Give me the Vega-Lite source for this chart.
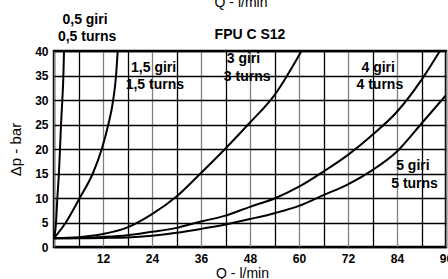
{
  "$schema": "https://vega.github.io/schema/vega-lite/v6.json",
  "autosize": "none",
  "width": 392,
  "height": 196,
  "padding": {"left": 54, "top": 51, "right": 2, "bottom": 32},
  "background": "white",
  "config": {
    "view": {"stroke": "black", "strokeWidth": 2.5},
    "axis": {
      "labelFont": "Liberation Sans",
      "labelFontWeight": "bold",
      "labelFontSize": 12,
      "labelColor": "black",
      "titleFont": "Liberation Sans",
      "titleFontWeight": "normal",
      "titleColor": "black",
      "domain": false,
      "ticks": false,
      "grid": true,
      "gridColor": "black",
      "gridWidth": 1.3
    }
  },
  "datasets": {
    "curves": [
      {"curve": "0.5", "Q": 0, "dp": 1.8},
      {"curve": "0.5", "Q": 0.5, "dp": 5},
      {"curve": "0.5", "Q": 0.82, "dp": 10},
      {"curve": "0.5", "Q": 1.2, "dp": 15},
      {"curve": "0.5", "Q": 1.47, "dp": 20},
      {"curve": "0.5", "Q": 1.72, "dp": 25},
      {"curve": "0.5", "Q": 2.04, "dp": 30},
      {"curve": "0.5", "Q": 2.3, "dp": 35},
      {"curve": "0.5", "Q": 2.45, "dp": 40},
      {"curve": "1.5", "Q": 0, "dp": 1.8},
      {"curve": "1.5", "Q": 2.9, "dp": 5},
      {"curve": "1.5", "Q": 6.3, "dp": 10},
      {"curve": "1.5", "Q": 9.5, "dp": 15},
      {"curve": "1.5", "Q": 11.7, "dp": 20},
      {"curve": "1.5", "Q": 13.3, "dp": 25},
      {"curve": "1.5", "Q": 14.5, "dp": 30},
      {"curve": "1.5", "Q": 15.2, "dp": 35},
      {"curve": "1.5", "Q": 15.6, "dp": 40},
      {"curve": "3", "Q": 0, "dp": 1.8},
      {"curve": "3", "Q": 6, "dp": 2.0},
      {"curve": "3", "Q": 12, "dp": 2.65},
      {"curve": "3", "Q": 18, "dp": 4.0},
      {"curve": "3", "Q": 24, "dp": 6.7},
      {"curve": "3", "Q": 30, "dp": 10.3},
      {"curve": "3", "Q": 36, "dp": 15.1},
      {"curve": "3", "Q": 42, "dp": 20.1},
      {"curve": "3", "Q": 48, "dp": 25.4},
      {"curve": "3", "Q": 54, "dp": 31},
      {"curve": "3", "Q": 60.6, "dp": 40},
      {"curve": "4", "Q": 0, "dp": 1.8},
      {"curve": "4", "Q": 6, "dp": 1.85},
      {"curve": "4", "Q": 12, "dp": 2.05},
      {"curve": "4", "Q": 18, "dp": 2.4},
      {"curve": "4", "Q": 24, "dp": 3.1},
      {"curve": "4", "Q": 30, "dp": 3.9},
      {"curve": "4", "Q": 36, "dp": 5.2},
      {"curve": "4", "Q": 42, "dp": 6.4},
      {"curve": "4", "Q": 48, "dp": 8.2},
      {"curve": "4", "Q": 54, "dp": 9.9},
      {"curve": "4", "Q": 60, "dp": 12.3},
      {"curve": "4", "Q": 66, "dp": 15.4},
      {"curve": "4", "Q": 72, "dp": 18.8},
      {"curve": "4", "Q": 78, "dp": 22.9},
      {"curve": "4", "Q": 84, "dp": 27.6},
      {"curve": "4", "Q": 90, "dp": 34.1},
      {"curve": "4", "Q": 94.5, "dp": 40},
      {"curve": "5", "Q": 0, "dp": 1.8},
      {"curve": "5", "Q": 6, "dp": 1.8},
      {"curve": "5", "Q": 12, "dp": 1.85},
      {"curve": "5", "Q": 18, "dp": 1.95},
      {"curve": "5", "Q": 24, "dp": 2.3},
      {"curve": "5", "Q": 30, "dp": 2.9},
      {"curve": "5", "Q": 36, "dp": 3.7},
      {"curve": "5", "Q": 42, "dp": 4.6},
      {"curve": "5", "Q": 48, "dp": 5.7},
      {"curve": "5", "Q": 54, "dp": 6.9},
      {"curve": "5", "Q": 60, "dp": 8.4},
      {"curve": "5", "Q": 66, "dp": 10.6},
      {"curve": "5", "Q": 72, "dp": 12.8},
      {"curve": "5", "Q": 78, "dp": 15.7},
      {"curve": "5", "Q": 84, "dp": 19.5},
      {"curve": "5", "Q": 90, "dp": 25.2},
      {"curve": "5", "Q": 96, "dp": 31}
    ],
    "labels": [
      {"Q": 7.6, "dp": 46.4, "text": "0,5 giri"},
      {"Q": 8.1, "dp": 42.9, "text": "0,5 turns"},
      {"Q": 48.0, "dp": 43.3, "text": "FPU C S12"},
      {"Q": 24.4, "dp": 36.6, "text": "1,5 giri"},
      {"Q": 24.7, "dp": 33.0, "text": "1,5 turns"},
      {"Q": 46.4, "dp": 38.4, "text": "3 giri"},
      {"Q": 47.3, "dp": 34.7, "text": "3 turns"},
      {"Q": 79.4, "dp": 36.5, "text": "4 giri"},
      {"Q": 79.8, "dp": 33.0, "text": "4 turns"},
      {"Q": 87.9, "dp": 16.5, "text": "5 giri"},
      {"Q": 88.3, "dp": 12.9, "text": "5 turns"}
    ],
    "toptitle": [
      {"Q": 45.8, "dp": 49.0, "text": "Q - l/min"}
    ]
  },
  "layer": [
    {
      "data": {"name": "curves"},
      "mark": {"type": "line", "color": "black", "strokeWidth": 2, "interpolate": "monotone", "clip": true},
      "encoding": {
        "x": {
          "field": "Q",
          "type": "quantitative",
          "scale": {"domain": [0, 96], "nice": false, "zero": false},
          "axis": {
            "title": "Q - l/min",
            "titleFontSize": 14,
            "titleX": 188,
            "titleY": 26,
            "titleBaseline": "middle",
            "values": [0, 6, 12, 18, 24, 30, 36, 42, 48, 54, 60, 66, 72, 78, 84, 90, 96],
            "tickCount": 100,
            "format": "d",
            "labelExpr": "datum.value % 12 === 0 && datum.value > 0 ? datum.label : ''",
            "labelPadding": 6,
            "labelFlush": false,
            "labelOverlap": false,
            "grid": true,
            "gridColor": {"condition": {"test": "datum.value % 12 === 0", "value": "#808080"}, "value": "black"}
          }
        },
        "y": {
          "field": "dp",
          "type": "quantitative",
          "scale": {"domain": [0, 40], "nice": false, "zero": false},
          "axis": {
            "title": "Δp - bar",
            "titleFontSize": 15,
            "titleX": -39,
            "titleY": 98,
            "titleAngle": -90,
            "titleAlign": "center",
            "titleBaseline": "middle",
            "values": [0, 5, 10, 15, 20, 25, 30, 35, 40],
            "tickCount": 100,
            "format": "d",
            "labelPadding": 6,
            "labelFlush": false,
            "labelOverlap": false,
            "grid": true
          }
        },
        "detail": {"field": "curve", "type": "nominal"}
      }
    },
    {
      "data": {"name": "labels"},
      "mark": {"type": "text", "font": "Liberation Sans", "fontWeight": "bold", "fontSize": 14, "color": "black", "align": "center", "baseline": "middle"},
      "encoding": {
        "x": {"field": "Q", "type": "quantitative"},
        "y": {"field": "dp", "type": "quantitative"},
        "text": {"field": "text", "type": "nominal"}
      }
    },
    {
      "data": {"name": "toptitle"},
      "mark": {"type": "text", "font": "Liberation Sans", "fontSize": 14, "color": "black", "align": "center", "baseline": "alphabetic"},
      "encoding": {
        "x": {"field": "Q", "type": "quantitative"},
        "y": {"field": "dp", "type": "quantitative"},
        "text": {"field": "text", "type": "nominal"}
      }
    }
  ]
}
